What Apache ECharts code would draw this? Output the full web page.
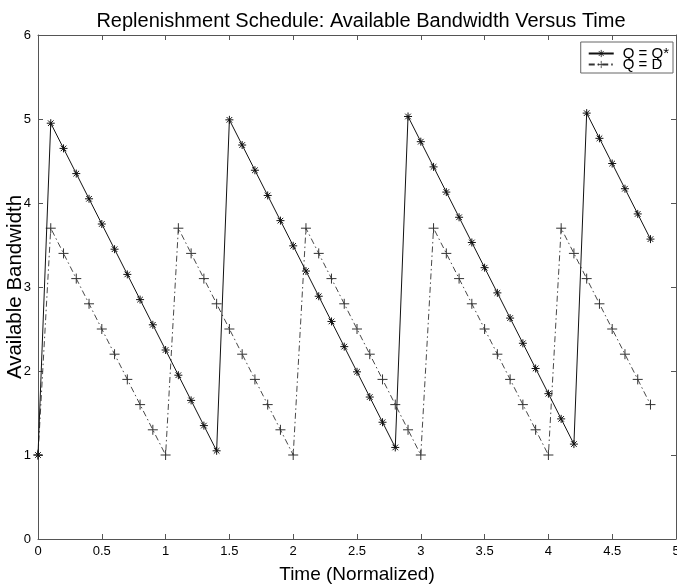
<!DOCTYPE html>
<html><head><meta charset="utf-8">
<script src="https://cdn.jsdelivr.net/npm/echarts@6/dist/echarts.min.js"></script>
<style>html,body{margin:0;padding:0;background:#fff}#c{width:677px;height:584px}</style>
</head><body><div id="c"></div>
<script>
var times = [0,0.1,0.2,0.3,0.4,0.5,0.6,0.7,0.8,0.9,1.0,1.1,1.2,1.3,1.4,1.5,1.6,1.7,1.8,1.9,2.0,2.1,2.2,2.3,2.4,2.5,2.6,2.7,2.8,2.9,3.0,3.1,3.2,3.3,3.4,3.5,3.6,3.7,3.8,3.9,4.0,4.1,4.2,4.3,4.4,4.5,4.6,4.7,4.8];
var qStar = [1,4.95,4.65,4.35,4.05,3.75,3.45,3.15,2.85,2.55,2.25,1.95,1.65,1.35,1.05,
  4.99,4.69,4.39,4.09,3.79,3.49,3.19,2.89,2.59,2.29,1.99,1.69,1.39,1.09,
  5.03,4.73,4.43,4.13,3.83,3.53,3.23,2.93,2.63,2.33,2.03,1.73,1.43,1.13,
  5.07,4.77,4.47,4.17,3.87,3.57];
var qD = [1,3.7,3.4,3.1,2.8,2.5,2.2,1.9,1.6,1.3,1.0,
  3.7,3.4,3.1,2.8,2.5,2.2,1.9,1.6,1.3,1.0,
  3.7,3.4,3.1,2.8,2.5,2.2,1.9,1.6,1.3,1.0,
  3.7,3.4,3.1,2.8,2.5,2.2,1.9,1.6,1.3,1.0,
  3.7,3.4,3.1,2.8,2.5,2.2,1.9,1.6];
var seriesNames = ['Q = Q*','Q = D'];
var xTicks = {min:0,max:5,interval:0.5};
var yTicks = {min:0,max:6,interval:1};
var yAxisTitle = 'Available Bandwidth';

function pairs(xs, ys){ return xs.map(function(x,i){ return [x, ys[i]]; }); }

var FONT = 'Liberation Sans, Arial, Helvetica, sans-serif';
var asterisk = 'path://M5,0L5,10M0,5L10,5M1.5,1.5L8.5,8.5M8.5,1.5L1.5,8.5';
var plus = 'path://M5,0L5,10M0,5L10,5';
var axisLine = {show:true, onZero:false, lineStyle:{color:'#555', width:1}};
var tickIn = {show:true, inside:true, length:5, lineStyle:{color:'#555', width:1}};

var chart = echarts.init(document.getElementById('c'), null, {renderer:'canvas'});
chart.setOption({
  animation:false,
  backgroundColor:'#fff',
  title:{text:'Replenishment Schedule: Available Bandwidth Versus Time', left:356, textAlign:'center', top:6,
    textStyle:{fontFamily:FONT, fontSize:20, fontWeight:'normal', color:'#000'}},
  graphic:[{
    type:'text', x:15, y:287, rotation:Math.PI/2,
    style:{text:yAxisTitle, fontFamily:FONT, fontSize:20.5, fill:'#000', align:'center', verticalAlign:'middle'}
  }],
  legend:{
    orient:'vertical', right:4, top:42,
    data:seriesNames,
    backgroundColor:'#fff', borderColor:'#666', borderWidth:1,
    padding:[4,4,1,7], itemGap:-4, itemWidth:25, itemHeight:9,
    itemStyle:{borderWidth:0.8},
    textStyle:{fontFamily:FONT, fontSize:15, lineHeight:14, color:'#000', padding:[0,0,0,4]}
  },
  grid:{left:38, right:1, top:35, bottom:45, containLabel:false, outerBoundsMode:'none'},
  xAxis:[{
    type:'value', min:xTicks.min, max:xTicks.max, interval:xTicks.interval,
    name:'Time (Normalized)', nameLocation:'middle', nameGap:26,
    nameTextStyle:{fontFamily:FONT, fontSize:19, color:'#000'},
    axisLine:axisLine, axisTick:tickIn, splitLine:{show:false},
    axisLabel:{fontFamily:FONT, fontSize:13, color:'#000', margin:6,
      formatter:function(v){ return String(+v.toFixed(1)); }}
  },{
    type:'value', position:'top', min:xTicks.min, max:xTicks.max, interval:xTicks.interval,
    axisLine:axisLine, axisTick:tickIn, axisLabel:{show:false}, splitLine:{show:false}
  }],
  yAxis:[{
    type:'value', min:yTicks.min, max:yTicks.max, interval:yTicks.interval,
    axisLine:axisLine, axisTick:tickIn, splitLine:{show:false},
    axisLabel:{fontFamily:FONT, fontSize:13, color:'#000', margin:7}
  },{
    type:'value', position:'right', min:yTicks.min, max:yTicks.max, interval:yTicks.interval,
    axisLine:axisLine, axisTick:tickIn, axisLabel:{show:false}, splitLine:{show:false}
  }],
  series:[{
    name:seriesNames[0], type:'line', data:pairs(times, qStar),
    symbol:asterisk, symbolSize:8,
    itemStyle:{color:'rgba(0,0,0,0)', borderColor:'#111', borderWidth:1},
    lineStyle:{color:'#111', width:1, type:'solid'}, z:3
  },{
    name:seriesNames[1], type:'line', data:pairs(times, qD),
    symbol:plus, symbolSize:10,
    itemStyle:{color:'rgba(0,0,0,0)', borderColor:'#333', borderWidth:1},
    lineStyle:{color:'#333', width:0.9, type:[6,3,1.5,3]}, z:2
  }]
});
</script></body></html>
